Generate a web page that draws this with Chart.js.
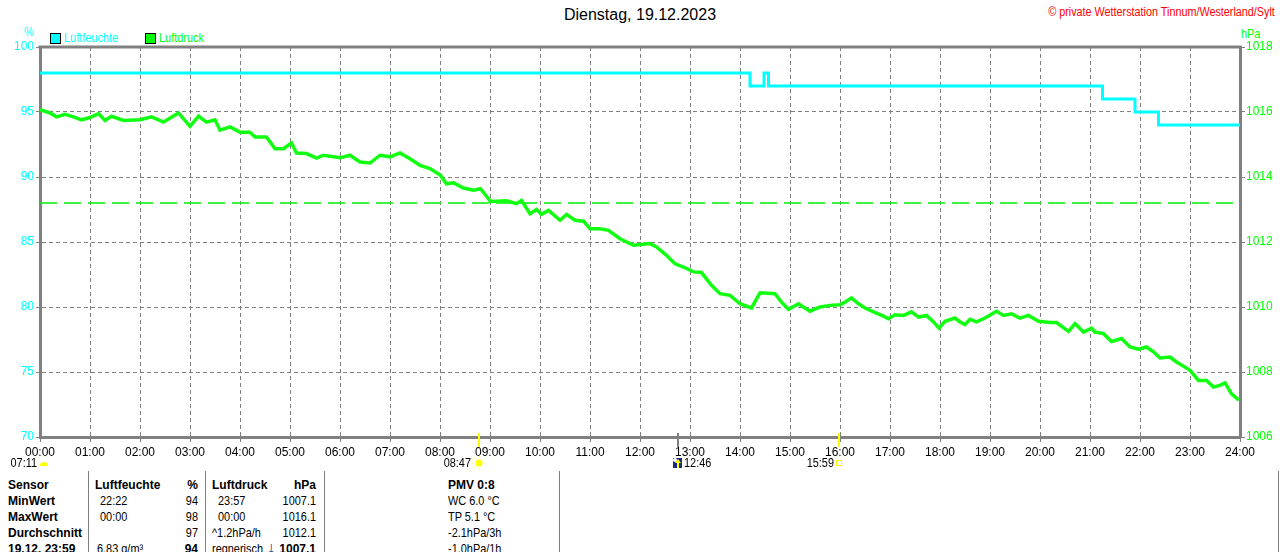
<!DOCTYPE html>
<html>
<head>
<meta charset="utf-8">
<script src="https://cdn.jsdelivr.net/npm/chart.js@4.4.1/dist/chart.umd.min.js"></script>
<style>
  body{margin:0;background:#fff;width:1280px;height:552px;overflow:hidden;position:relative;font-family:"Liberation Sans",Arial,sans-serif;}
  .t{position:absolute;white-space:nowrap;font-size:13px;line-height:16px;color:#000;transform:scaleX(0.84);transform-origin:left center;}
  .b{font-weight:bold;font-size:12px;transform:none;}
  .r{text-align:right;transform-origin:right center;}
  .sep{position:absolute;top:471px;height:81px;width:1px;background:#808080;}
  #c{position:absolute;left:0;top:0;}
</style>
</head>
<body>
<div class="t" style="left:0;width:1280px;text-align:center;top:6px;font-size:16px;line-height:18px;transform:none;">Dienstag, 19.12.2023</div>
<div class="t" style="right:5px;top:4px;font-size:12px;color:#ff0000;transform:scaleX(0.9);transform-origin:right center;">&copy; private Wetterstation Tinnum/Westerland/Sylt</div>
<div class="t" style="left:24px;top:24px;color:#00ffff;">%</div>
<div class="t" style="left:1241px;top:26px;color:#00ff00;">hPa</div>
<div style="position:absolute;left:50px;top:33px;width:9px;height:9px;background:#00ffff;border:1px solid #000;"></div>
<div class="t" style="left:64px;top:30px;color:#00ffff;">Luftfeuchte</div>
<div style="position:absolute;left:145px;top:33px;width:9px;height:9px;background:#00ff00;border:1px solid #000;"></div>
<div class="t" style="left:159px;top:30px;color:#00ff00;">Luftdruck</div>

<canvas id="c" width="1280" height="470"></canvas>

<div class="sep" style="left:88px"></div>
<div class="sep" style="left:205px"></div>
<div class="sep" style="left:324px"></div>
<div class="sep" style="left:559px"></div>
<div class="sep" style="left:1278px"></div>
<div id="table"></div>

<script>
// ---- data ----
const hourLabels = ['00:00','01:00','02:00','03:00','04:00','05:00','06:00','07:00','08:00','09:00','10:00','11:00','12:00',
  '13:00','14:00','15:00','16:00','17:00','18:00','19:00','20:00','21:00','22:00','23:00','24:00'];

// Luftfeuchte (%), stepped
const humTimes  = [0, 14.2, 14.48, 14.57, 21.25, 21.9, 22.37, 24];
const humValues = [98, 97, 98, 97, 96, 95, 94, 94];

// Luftdruck (hPa)
const pressTimes = [
  0.00,0.20,0.33,0.50,0.67,0.83,1.00,1.17,1.30,1.43,1.67,2.00,2.23,2.47,2.77,3.00,3.17,3.33,3.50,3.60,3.80,
  4.00,4.20,4.30,4.53,4.70,4.87,5.03,5.13,5.33,5.53,5.67,6.00,6.20,6.40,6.60,6.80,7.00,7.20,7.40,7.60,7.80,
  8.01,8.13,8.27,8.47,8.67,8.81,8.97,9.01,9.33,9.53,9.63,9.80,9.93,10.03,10.17,10.40,10.53,10.70,10.87,
  11.00,11.20,11.37,11.60,11.87,12.20,12.33,12.53,12.70,12.87,13.07,13.23,13.43,13.60,13.80,14.00,14.23,
  14.40,14.70,14.83,14.97,15.17,15.40,15.60,15.80,16.00,16.10,16.23,16.37,16.50,16.67,16.87,16.97,17.10,
  17.27,17.43,17.57,17.73,17.87,17.98,18.10,18.30,18.40,18.50,18.60,18.73,18.90,19.13,19.27,19.43,19.60,
  19.77,19.97,20.20,20.33,20.57,20.70,20.87,21.03,21.10,21.27,21.43,21.63,21.80,21.97,22.13,22.27,22.40,
  22.60,22.73,22.87,23.00,23.17,23.33,23.47,23.60,23.70,23.83,23.98];
const pressValues = [
  1016.07,1015.97,1015.85,1015.93,1015.85,1015.76,1015.83,1015.95,1015.74,1015.87,1015.74,1015.76,1015.85,1015.69,1015.97,1015.56,1015.87,1015.69,1015.76,1015.44,1015.54,
  1015.38,1015.38,1015.23,1015.23,1014.87,1014.87,1015.05,1014.74,1014.72,1014.58,1014.67,1014.59,1014.67,1014.46,1014.43,1014.67,1014.62,1014.74,1014.56,1014.36,1014.26,
  1014.05,1013.79,1013.82,1013.66,1013.59,1013.64,1013.33,1013.25,1013.27,1013.18,1013.28,1012.87,1013.00,1012.85,1012.97,1012.67,1012.85,1012.67,1012.64,
  1012.41,1012.41,1012.36,1012.10,1011.90,1011.95,1011.85,1011.59,1011.33,1011.23,1011.08,1011.06,1010.67,1010.41,1010.36,1010.10,1009.97,
  1010.44,1010.41,1010.15,1009.93,1010.10,1009.87,1010.00,1010.05,1010.07,1010.15,1010.28,1010.10,1009.97,1009.85,1009.72,1009.64,1009.76,
  1009.74,1009.85,1009.69,1009.74,1009.54,1009.35,1009.56,1009.66,1009.54,1009.46,1009.62,1009.54,1009.66,1009.87,1009.74,1009.79,1009.66,
  1009.74,1009.56,1009.52,1009.52,1009.25,1009.49,1009.23,1009.35,1009.23,1009.18,1008.94,1009.03,1008.77,1008.70,1008.77,1008.62,1008.43,
  1008.46,1008.31,1008.18,1008.05,1007.74,1007.74,1007.54,1007.59,1007.67,1007.33,1007.13];

const pressRef = 1013.2;

// sun / moon events below the axis
const eventLabels = ['08:47', '12:46', '15:59'];
const eventColors = ['#ffff00', '#808080', '#ffff00'];

// table
const tableRows = [
  ['Sensor', 'Luftfeuchte', '%', 'Luftdruck', 'hPa', 'PMV 0:8'],
  ['MinWert', '22:22', '94', '23:57', '1007.1', 'WC 6.0 °C'],
  ['MaxWert', '00:00', '98', '00:00', '1016.1', 'TP 5.1 °C'],
  ['Durchschnitt', '', '97', '^1.2hPa/h', '1012.1', '-2.1hPa/3h'],
  ['19.12. 23:59', '6.83 g/m³', '94', 'regnerisch', '1007.1', '-1.0hPa/1h']
];

// ---- table ----
const tbl = document.getElementById('table');
tableRows.forEach((row, i) => {
  const top = 477 + i*16;
  const head = i === 0, last = i === 4;
  const cell = (txt, left, opts) => {
    const d = document.createElement('div');
    d.className = 't' + (opts.bold ? ' b' : '') + (opts.right ? ' r' : '');
    d.style.top = top + 'px';
    if (opts.right) { d.style.left = (left - 100) + 'px'; d.style.width = '100px'; }
    else d.style.left = left + 'px';
    d.textContent = txt;
    tbl.appendChild(d);
  };
  cell(row[0], 8, {bold:true});
  cell(row[1], head ? 95 : (last ? 97 : 100), {bold:head});
  cell(row[2], 198, {bold:head||last, right:true});
  cell(row[3], (i === 1 || i === 2) ? 218 : 212, {bold:head});
  cell(row[4], 316, {bold:head||last, right:true});
  cell(row[5], 448, {bold:head});
});
// pressure trend arrow in the last row
const arr = document.createElement('div');
arr.className = 't b'; arr.style.left = '267px'; arr.style.top = (476+64) + 'px';
arr.style.color = '#1e2a70'; arr.style.fontSize = '16px';
arr.textContent = '↓'; tbl.appendChild(arr);

const toHours = s => { const [h, m] = s.split(':').map(Number); return h + m/60; };
const FONT = '"Liberation Sans",Arial,sans-serif';

function narrowText(ctx, txt, x, y, align){
  const w = ctx.measureText(txt).width * 0.84;
  const left = align === 'right' ? x - w : x;
  ctx.save(); ctx.translate(left, y); ctx.scale(0.84, 1);
  ctx.textAlign = 'left'; ctx.fillText(txt, 0, 0); ctx.restore();
}

const frame = {
  id: 'frame',
  afterDraw(chart){
    const {ctx, chartArea:a, scales:{x}} = chart;
    ctx.save();
    // top border
    ctx.strokeStyle = '#808080'; ctx.lineWidth = 3;
    ctx.beginPath(); ctx.moveTo(a.left-1.5, a.top); ctx.lineTo(a.right+1.5, a.top); ctx.stroke();
    // event ticks + labels
    ctx.font = '13px ' + FONT; ctx.textBaseline = 'middle';
    eventLabels.forEach((lab, i) => {
      const px = Math.round(x.getPixelForValue(toHours(lab)));
      ctx.fillStyle = eventColors[i];
      ctx.fillRect(px-1, a.bottom-4, 2, 14);
      const y = 463;
      if (i === 0) {
        // sun
        ctx.beginPath(); ctx.arc(px, y, 3.5, 0, Math.PI*2); ctx.fill();
        ctx.strokeStyle = '#ffff80'; ctx.lineWidth = 1;
        for (let k=0;k<8;k++){ const an=k*Math.PI/4; ctx.beginPath();
          ctx.moveTo(px+Math.cos(an)*5, y+Math.sin(an)*5); ctx.lineTo(px+Math.cos(an)*7, y+Math.sin(an)*7); ctx.stroke(); }
        ctx.fillStyle = '#000'; narrowText(ctx, lab, px-8, y, 'right');
      } else if (i === 1) {
        ctx.fillStyle = '#1a2a80'; ctx.fillRect(px-5, y-5, 9, 10);
        ctx.fillStyle = '#fff'; ctx.beginPath(); ctx.arc(px-3, y-3, 2, 0, Math.PI*2); ctx.fill();
        ctx.fillStyle = '#ffff00'; ctx.fillRect(px-1, y-1, 2, 6);
        ctx.beginPath(); ctx.moveTo(px-3, y); ctx.lineTo(px, y-4); ctx.lineTo(px+3, y); ctx.fill();
        ctx.fillStyle = '#000'; narrowText(ctx, lab, px+6, y, 'left');
      } else {
        ctx.strokeStyle = '#ffff00'; ctx.lineWidth = 1; ctx.strokeRect(px-2.5, y-2.5, 5, 5);
        ctx.fillStyle = '#000'; narrowText(ctx, lab, px-5, y, 'right');
      }
    });
    // dawn label at the left
    ctx.fillStyle = '#000'; narrowText(ctx, '07:11', 37, 463, 'right');
    ctx.fillStyle = '#ffff00';
    ctx.beginPath(); ctx.arc(44, 466, 4, Math.PI, 0); ctx.fill();
    ctx.restore();
  }
};

const grid = { color:'#808080', lineWidth:1, tickBorderDash:[], tickColor:'#808080', tickLength:5 };

new Chart(document.getElementById('c').getContext('2d'), {
  type: 'line',
  data: {
    datasets: [
      { label:'Luftfeuchte', yAxisID:'y', data: humTimes.map((t,i)=>({x:t, y:humValues[i]})),
        borderColor:'#00ffff', borderWidth:3, stepped:true, pointRadius:0, order:1 },
      { label:'Luftdruck', yAxisID:'y1', data: pressTimes.map((t,i)=>({x:t, y:pressValues[i]})),
        borderColor:'#11ff11', borderWidth:3.5, tension:0, pointRadius:0, order:2 },
      { label:'ref', yAxisID:'y1', data: [{x:0, y:pressRef}, {x:24, y:pressRef}],
        borderColor:'#00ee00', borderWidth:1.5, borderDash:[17,7], pointRadius:0, order:3 }
    ]
  },
  options: {
    responsive:false, animation:false, devicePixelRatio:1,
    layout:{ padding:{ top:47, left:0, right:0, bottom:0 } },
    plugins:{ legend:{display:false}, tooltip:{enabled:false} },
    scales:{
      x:{ type:'linear', min:0, max:24,
        afterFit(s){ s.height = 33; },
        afterBuildTicks(s){ s.ticks = hourLabels.map((l,i)=>({value:i})); },
        ticks:{ color:'#000', font:{family:FONT, size:12}, padding:3, maxRotation:0, autoSkip:false,
          callback:(v,i)=>hourLabels[i] },
        grid:{...grid},
        border:{ display:true, color:'#808080', width:3, dash:[4,3] } },
      y:{ position:'left', min:70, max:100,
        afterFit(s){ s.width = 40; },
        ticks:{ stepSize:5, color:'#00ffff', font:{family:FONT, size:12}, padding:2 },
        grid:{...grid, tickLength:4},
        border:{ display:true, color:'#808080', width:3, dash:[4,3] } },
      y1:{ position:'right', min:1006, max:1018,
        afterFit(s){ s.width = 40; },
        ticks:{ stepSize:2, color:'#00ff00', font:{family:FONT, size:12}, padding:1, callback:v => String(v) },
        grid:{ display:true, drawOnChartArea:false, tickColor:'#808080', tickLength:5 },
        border:{ display:true, color:'#808080', width:3 } }
    }
  },
  plugins:[frame]
});
</script>
</body>
</html>
